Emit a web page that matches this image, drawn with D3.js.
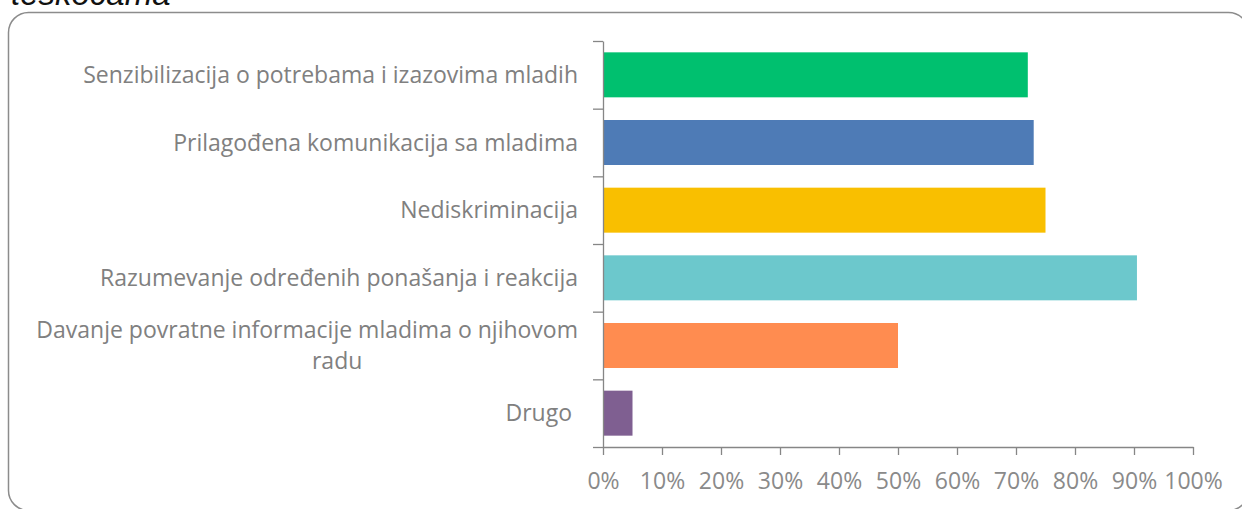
<!DOCTYPE html>
<html>
<head>
<meta charset="utf-8">
<script src="https://cdn.jsdelivr.net/npm/d3@7"></script>
<style>
  body { margin: 0; background: #fff; }
  svg { display: block; }
  .lbl { font-family: "Open Sans", "Liberation Sans", sans-serif; font-size: 23px; fill: #808080; white-space: pre; }
  .axis text { font-family: "Open Sans", "Liberation Sans", sans-serif; font-size: 23px; fill: #8a8a8a; }
  .axis path, .axis line { stroke: #868686; stroke-width: 1.3; }
</style>
</head>
<body>
<script>
var categories = [
  ["Senzibilizacija o potrebama i izazovima mladih"],
  ["Prilagođena komunikacija sa mladima"],
  ["Nediskriminacija"],
  ["Razumevanje određenih ponašanja i reakcija"],
  ["Davanje povratne informacije mladima o njihovom", "radu"],
  ["Drugo "]
];
var values = [0.72, 0.73, 0.75, 0.905, 0.50, 0.05];
var colors = ["#00c06f", "#4e7bb6", "#f9bf00", "#6cc8cc", "#ff8c50", "#7f5f91"];
var tickValues = [0, 0.1, 0.2, 0.3, 0.4, 0.5, 0.6, 0.7, 0.8, 0.9, 1];
var title = "teškoćama";

var W = 1242, H = 509;
var m = [41, 49, 62, 603]; // top, right, bottom, left

var svg = d3.select("body").append("svg")
    .attr("width", W)
    .attr("height", H);

// frame with rounded corners
svg.append("rect")
    .attr("x", 8.5).attr("y", 12.5)
    .attr("width", 1240).attr("height", 498)
    .attr("rx", 20).attr("ry", 20)
    .attr("fill", "none")
    .attr("stroke", "#8c8c8c")
    .attr("stroke-width", 1.5);

// cut-off heading from the page above
svg.append("text")
    .attr("x", 11).attr("y", 5)
    .style("font-family", "'Liberation Sans', Arial, sans-serif")
    .style("font-style", "italic")
    .style("font-size", "33px")
    .attr("fill", "#111")
    .text(title);

var x = d3.scaleLinear().domain([0, 1]).range([m[3], W - m[1]]);
var y = d3.scaleBand()
    .domain(d3.range(categories.length))
    .range([m[0], H - m[2]])
    .paddingInner(0.335)
    .paddingOuter(0.1675);
var yb = d3.scaleLinear().domain([0, categories.length]).range([m[0], H - m[2]]);

// bars
svg.append("g").selectAll("rect")
    .data(values)
  .enter().append("rect")
    .attr("x", x(0))
    .attr("y", function(d, i) { return y(i); })
    .attr("width", function(d) { return x(d) - x(0); })
    .attr("height", y.bandwidth())
    .attr("fill", function(d, i) { return colors[i]; });

// y axis: line with ticks at band boundaries
svg.append("g")
    .attr("class", "axis")
    .attr("transform", "translate(" + x(0) + ",0)")
    .call(d3.axisLeft(yb).ticks(categories.length).tickSize(10).tickSizeOuter(0).tickFormat(""));

// x axis
var xa = svg.append("g")
    .attr("class", "axis")
    .attr("transform", "translate(0," + (H - m[2]) + ")")
    .call(d3.axisBottom(x).tickValues(tickValues).tickSize(8).tickSizeOuter(0).tickFormat(d3.format(".0%")));
xa.selectAll("text").attr("y", 42).attr("dy", 0);

// category labels
var lg = svg.append("g");
categories.forEach(function(lines, i) {
  var cy = y(i) + y.bandwidth() / 2;
  if (lines.length === 1) {
    lg.append("text").attr("class", "lbl")
        .attr("x", 578).attr("y", cy + 8)
        .attr("text-anchor", "end")
        .text(lines[0]);
  } else {
    var t1 = lg.append("text").attr("class", "lbl")
        .attr("x", 578).attr("y", cy - 8)
        .attr("text-anchor", "end")
        .text(lines[0]);
    var w1 = t1.node().getComputedTextLength();
    lg.append("text").attr("class", "lbl")
        .attr("x", 578 - w1 / 2 + 30).attr("y", cy + 23)
        .attr("text-anchor", "middle")
        .text(lines[1]);
  }
});
</script>
</body>
</html>
